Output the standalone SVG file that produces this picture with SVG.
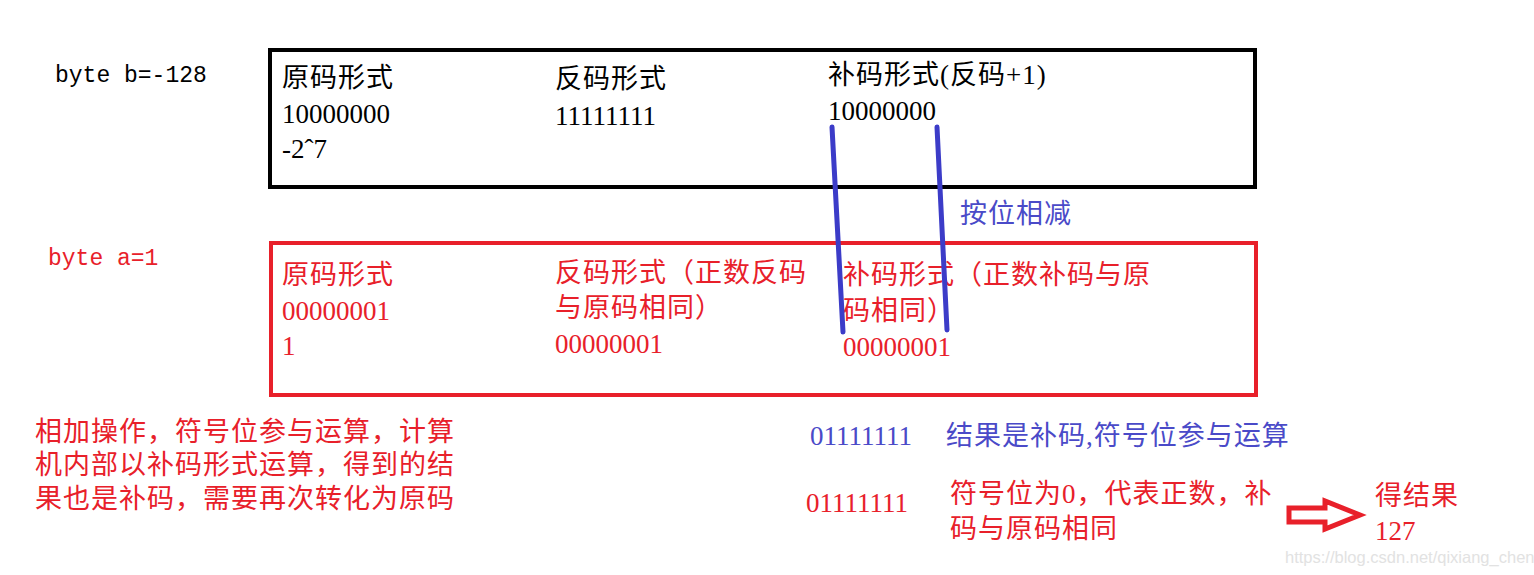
<svg xmlns="http://www.w3.org/2000/svg" width="1534" height="575" viewBox="0 0 1534 575">
<style>
text{font-family:"Liberation Serif","Noto Sans CJK SC",serif;font-size:27px}
.c{letter-spacing:1px}
.k{fill:#000}.r{fill:#e8202a}.b{fill:#4a4ac8}
.m{font-family:"Liberation Mono","DejaVu Sans Mono",monospace;font-size:23px}
</style>
<rect width="1534" height="575" fill="#fff"/>
<g id="boxB"><rect x="270" y="50" width="985" height="137" fill="none" stroke="#000" stroke-width="4"/>
<text class="k c" x="282" y="87">原码形式</text><text class="k" x="282" y="123">10000000</text><text class="k" x="282" y="158">-2ˆ7</text>
<text class="k c" x="555" y="88">反码形式</text><text class="k" x="555" y="125">11111111</text>
<text class="k c" x="828" y="84">补码形式(反码+1)</text><text class="k" x="828" y="120">10000000</text></g>
<g id="boxA"><rect x="271" y="243" width="985" height="152" fill="none" stroke="#e8202a" stroke-width="4"/>
<text class="r c" x="282" y="284">原码形式</text><text class="r" x="282" y="320">00000001</text><text class="r" x="282" y="355">1</text>
<text class="r c" x="555" y="282">反码形式（正数反码</text><text class="r c" x="555" y="317">与原码相同）</text><text class="r" x="555" y="353">00000001</text>
<text class="r c" x="843" y="284">补码形式（正数补码与原</text><text class="r c" x="843" y="320">码相同）</text><text class="r" x="843" y="356">00000001</text></g>
<text class="m k" x="55" y="82">byte b=-128</text>
<text class="m r" x="48" y="265">byte a=1</text>
<g id="connectors" stroke="#3c3cc8" stroke-width="5" stroke-linecap="round">
<line x1="832" y1="127" x2="843" y2="332"/><line x1="937" y1="127" x2="947" y2="330"/></g>
<text class="b c" x="960" y="223">按位相减</text>
<text class="r c" x="35" y="441">相加操作，符号位参与运算，计算</text>
<text class="r c" x="35" y="474">机内部以补码形式运算，得到的结</text>
<text class="r c" x="35" y="508">果也是补码，需要再次转化为原码</text>
<text class="b" x="810" y="445">01111111</text><text class="b c" x="946" y="445">结果是补码,符号位参与运算</text>
<text class="r" x="806" y="512">01111111</text>
<text class="r c" x="950" y="503">符号位为0，代表正数，补</text><text class="r c" x="950" y="538">码与原码相同</text>
<g id="arrow"><polygon points="1289,508 1325,508 1325,501 1360,515 1325,529 1325,522 1289,522" fill="none" stroke="#e8202a" stroke-width="5" stroke-linejoin="miter"/></g>
<text class="r c" x="1375" y="505">得结果</text><text class="r" x="1375" y="540">127</text>
<text x="1285" y="563" style="font-family:'Liberation Sans',sans-serif;font-size:16.5px;fill:#e2e2e2">https://blog.csdn.net/qixiang_chen</text>
</svg>
